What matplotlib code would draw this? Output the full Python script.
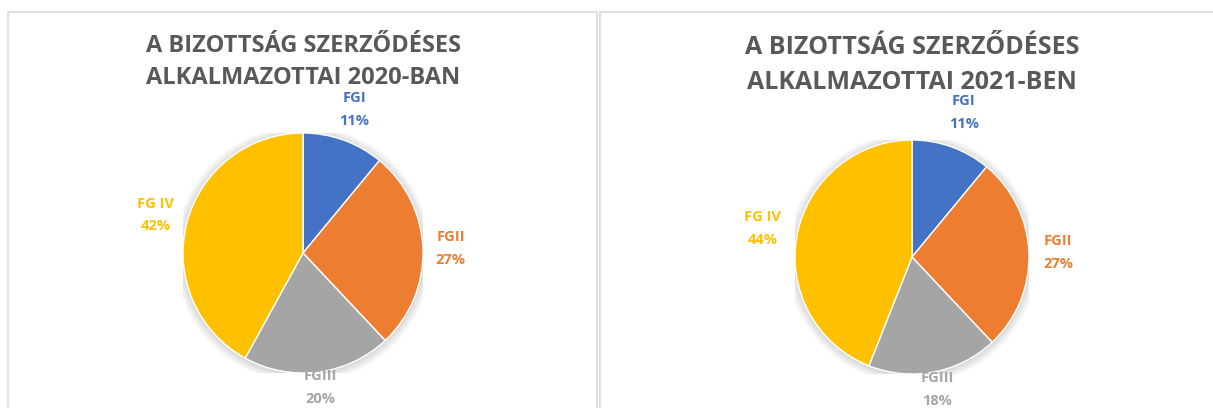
import matplotlib
matplotlib.use("Agg")
import numpy as np
from matplotlib import pyplot as plt
from matplotlib.patches import Rectangle

labels = ["FGI", "FGII", "FGIII", "FG IV"]
shares_2020 = [11, 27, 20, 42]
shares_2021 = [11, 27, 18, 44]
colors = ["#4472C4", "#ED7D31", "#A5A5A5", "#FFC000"]
titles = ["A BIZOTTSÁG SZERZŐDÉSES\nALKALMAZOTTAI 2020-BAN",
          "A BIZOTTSÁG SZERZŐDÉSES\nALKALMAZOTTAI 2021-BEN"]

W, H = 1213, 408
plt.rcParams['font.family'] = ['Open Sans', 'DejaVu Sans']
fig = plt.figure(figsize=(W / 100, H / 100), dpi=100)

# panel borders (pixel coords, y from top)
for x0, x1 in [(8, 597), (600, 1230)]:
    fig.add_artist(Rectangle((x0 / W, -0.1), (x1 - x0) / W, 1.1 - 12 / H,
                             transform=fig.transFigure, fill=False,
                             edgecolor="#D9D9D9", linewidth=1.2))


def draw_pie(cx, cy, r, shares, title, title_y, tsize, dists):
    ax = fig.add_axes([(cx - r) / W, 1 - (cy + r) / H, 2 * r / W, 2 * r / H])
    # soft shadow under the pie
    for k in range(6):
        ax.add_patch(plt.Circle((0.0, -0.01), 1.0 + 0.012 * (k + 1),
                                color="#000000", alpha=0.025, zorder=0, lw=0))
    wedges, _ = ax.pie(shares, colors=colors, startangle=90, counterclock=False,
                       wedgeprops=dict(edgecolor="white", linewidth=1, zorder=2))
    for w, lab, v, c, d in zip(wedges, labels, shares, colors, dists):
        ang = np.deg2rad((w.theta1 + w.theta2) / 2)
        ax.text(d * np.cos(ang), d * np.sin(ang), f"{lab}\n{v}%", color=c,
                ha="center", va="center", fontsize=10.5, fontweight="bold",
                linespacing=1.8)
    ax.set_xlim(-1, 1)
    ax.set_ylim(-1, 1)
    ax.set_aspect("equal")
    ax.axis("off")
    fig.text(cx / W, 1 - title_y / H, title, ha="center", va="center",
             fontsize=tsize, fontweight="bold", color="#595959", linespacing=1.5)


draw_pie(303, 253, 120, shares_2020, titles[0], 62, 17, [1.27, 1.23, 1.13, 1.27])
draw_pie(912, 257, 117, shares_2021, titles[1], 65, 18, [1.31, 1.25, 1.15, 1.30])

fig.savefig("out.png", dpi=100)
